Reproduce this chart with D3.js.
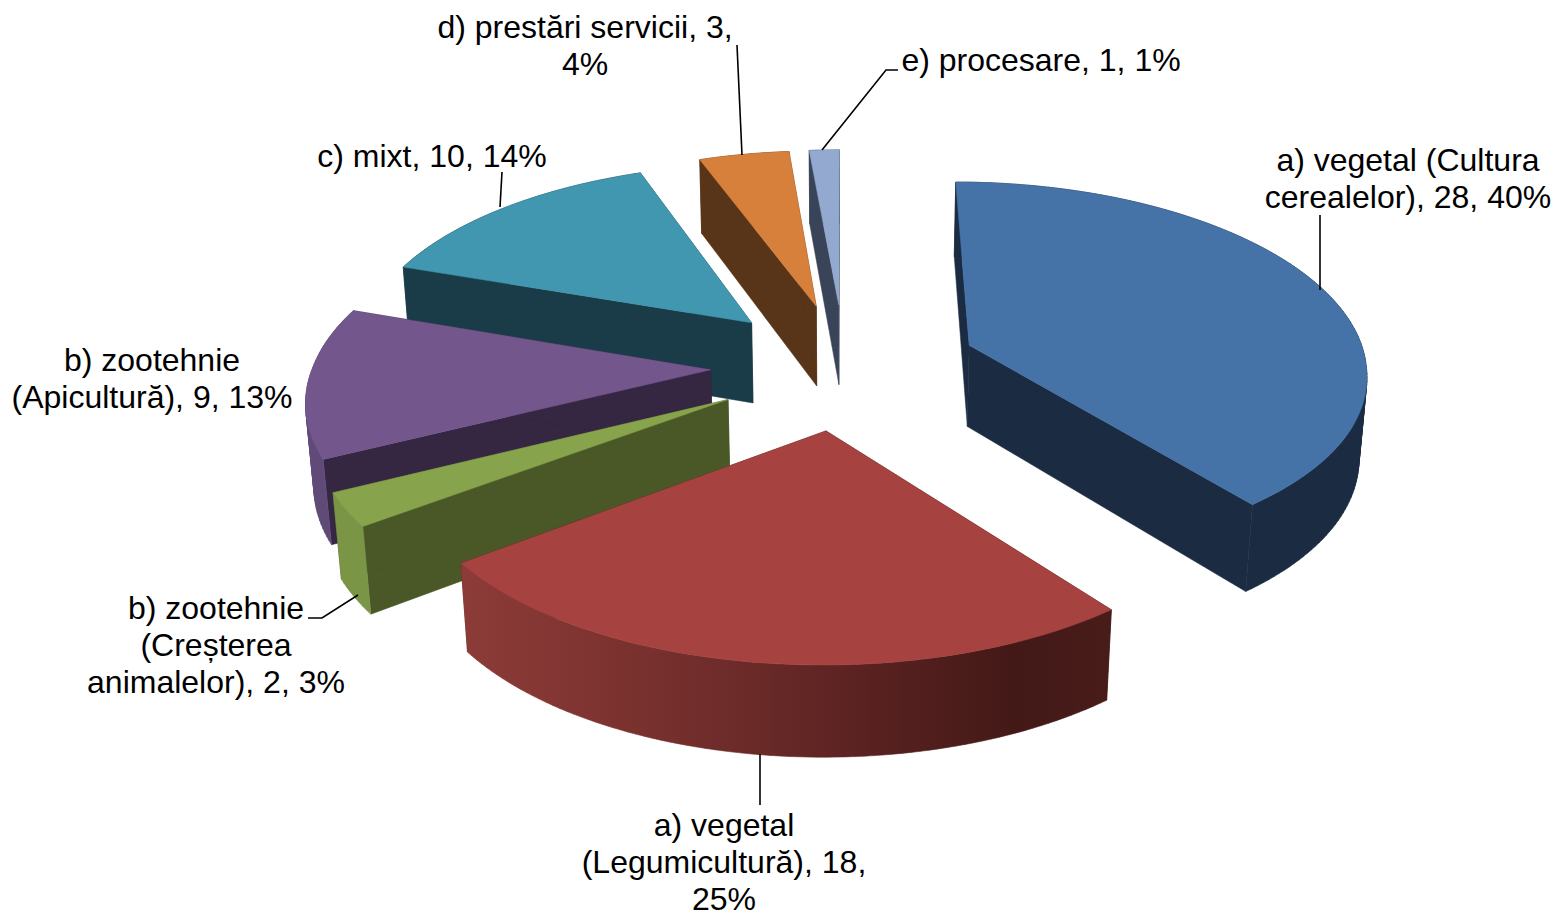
<!DOCTYPE html>
<html><head><meta charset="utf-8">
<script src="https://cdn.jsdelivr.net/npm/d3@7/dist/d3.min.js"></script>
<style>html,body{margin:0;padding:0;background:#fff}svg{display:block}text{font-family:"Liberation Sans",Arial,sans-serif;font-size:32px;fill:#000}</style>
</head><body><script>
// Data
const categories = ["a) vegetal (Cultura cerealelor)","a) vegetal (Legumicultură)","b) zootehnie (Creșterea animalelor)","b) zootehnie (Apicultură)","c) mixt","d) prestări servicii","e) procesare"];
const values = [28,18,2,9,10,3,1];
const percents = [40,25,3,13,14,4,1];
// Label line breaks, as in the picture
const labelLines = [
  ["a) vegetal (Cultura","cerealelor), 28, 40%"],
  ["a) vegetal","(Legumicultură), 18,","25%"],
  ["b) zootehnie","(Creșterea","animalelor), 2, 3%"],
  ["b) zootehnie","(Apicultură), 9, 13%"],
  ["c) mixt, 10, 14%"],
  ["d) prestări servicii, 3,","4%"],
  ["e) procesare, 1, 1%"]
];
// Styles
const topColors  = ["#4572A7","#A64340","#87A44D","#72568C","#4197AF","#D7803B","#93A9CF"];
const sideColors = ["#1B2C42","#431917","#4A5727","#352642","#1A3C48","#583518","#3A4459"];
const rimStops = [
  [["0","#1B2C42"],["1","#1B2C42"]],
  [["0","#8C3B38"],["0.2","#7F3431"],["0.45","#6A2A28"],["0.62","#5A2221"],["0.85","#431917"],["1","#471C19"]],
  [["0","#7A9546"],["1","#7A9546"]],
  [["0","#5F4A78"],["1","#5F4A78"]],
  [["0","#1A3C48"],["1","#1A3C48"]],
  [["0","#583518"],["1","#583518"]],
  [["0","#3A4459"],["1","#3A4459"]]
];
// Layout of labels & leaders (pixels)
const labelX = [1408,724,216,152,432,585,1041];
const labelY = [171,836,619,371,167,38,71];
const lineH = 36.8;
const leaders = [
  [[1320,290],[1320,215]],
  [[760,754],[760,805]],
  [[358,595],[322,618],[308,618]],
  [[500,207],[502,172]],
  [[742,155],[737,45]],
  [[822,150],[886,70],[898,70]]
];
// Perspective camera
const cx=844.5, vy=-1170, G=0.259, A0=6.512e-4, B=0.797e-4, C=0.10e-4, D=0.0695, explode=0.336, nearWiden=0.08, a0=1535;
function project(X,Y,Z){
  const w=A0+B*Y+C*Z, flat=1/(A0+B*Y);
  return [cx+G*X/w*(1+nearWiden*Math.max(0,flat-a0)/a0), vy+(1+D*Z)/w];
}
const W=1555,H=911;
const svg=d3.select("body").append("svg").attr("width",W).attr("height",H);
const defs=svg.append("defs");
const line=d3.line();
const arcs=d3.pie().sort(null)(values);
const drawOrder=[6,5,4,3,2,1,0];
drawOrder.forEach(i=>{
  const a=arcs[i], mid=(a.startAngle+a.endAngle)/2;
  const ox=explode*Math.sin(mid), oy=explode*Math.cos(mid);
  const n=Math.max(4,Math.ceil((a.endAngle-a.startAngle)/0.02));
  const angles=d3.range(n+1).map(k=>a.startAngle+(a.endAngle-a.startAngle)*k/n);
  const rim=z=>angles.map(t=>project(ox+Math.sin(t),oy+Math.cos(t),z));
  const apex=z=>project(ox,oy,z);
  const top=rim(0),bot=rim(1);
  const g=svg.append("g");
  // radial walls
  [[top[0],bot[0]],[top[n],bot[n]]].forEach(([p,q])=>{
    g.append("path").attr("d",line([apex(0),p,q,apex(1)])+"Z")
      .attr("fill",sideColors[i]).attr("stroke",sideColors[i]).attr("stroke-width",0.5);
  });
  // outer wall: one quad per rim step, all wound the same way so overlaps never cancel
  const xs=top.concat(bot).map(p=>p[0]);
  const id="rim"+i;
  const grad=defs.append("linearGradient").attr("id",id).attr("gradientUnits","userSpaceOnUse")
    .attr("x1",d3.min(xs)).attr("x2",d3.max(xs)).attr("y1",0).attr("y2",0);
  rimStops[i].forEach(s=>grad.append("stop").attr("offset",s[0]).attr("stop-color",s[1]));
  const quads=d3.range(n).map(k=>{
    const q=[top[k],top[k+1],bot[k+1],bot[k]];
    return line(d3.polygonArea(q)<0?q.reverse():q)+"Z";
  }).join("");
  g.append("path").attr("d",quads).attr("fill-rule","nonzero")
    .attr("fill",`url(#${id})`).attr("stroke",`url(#${id})`).attr("stroke-width",0.6);
  // top face
  g.append("path").attr("d",line([apex(0)].concat(top))+"Z")
    .attr("fill",topColors[i]).attr("stroke",topColors[i]).attr("stroke-width",0.5);
});
// leaders
svg.append("g").selectAll("path").data(leaders).join("path")
  .attr("d",d=>line(d)).attr("fill","none").attr("stroke","#000").attr("stroke-width",1.6);
// labels
labelLines.forEach((ls,i)=>{
  const t=svg.append("text").attr("text-anchor","middle");
  ls.forEach((s,k)=>t.append("tspan").attr("x",labelX[i]).attr("y",labelY[i]+k*lineH).text(s));
});
</script></body></html>
